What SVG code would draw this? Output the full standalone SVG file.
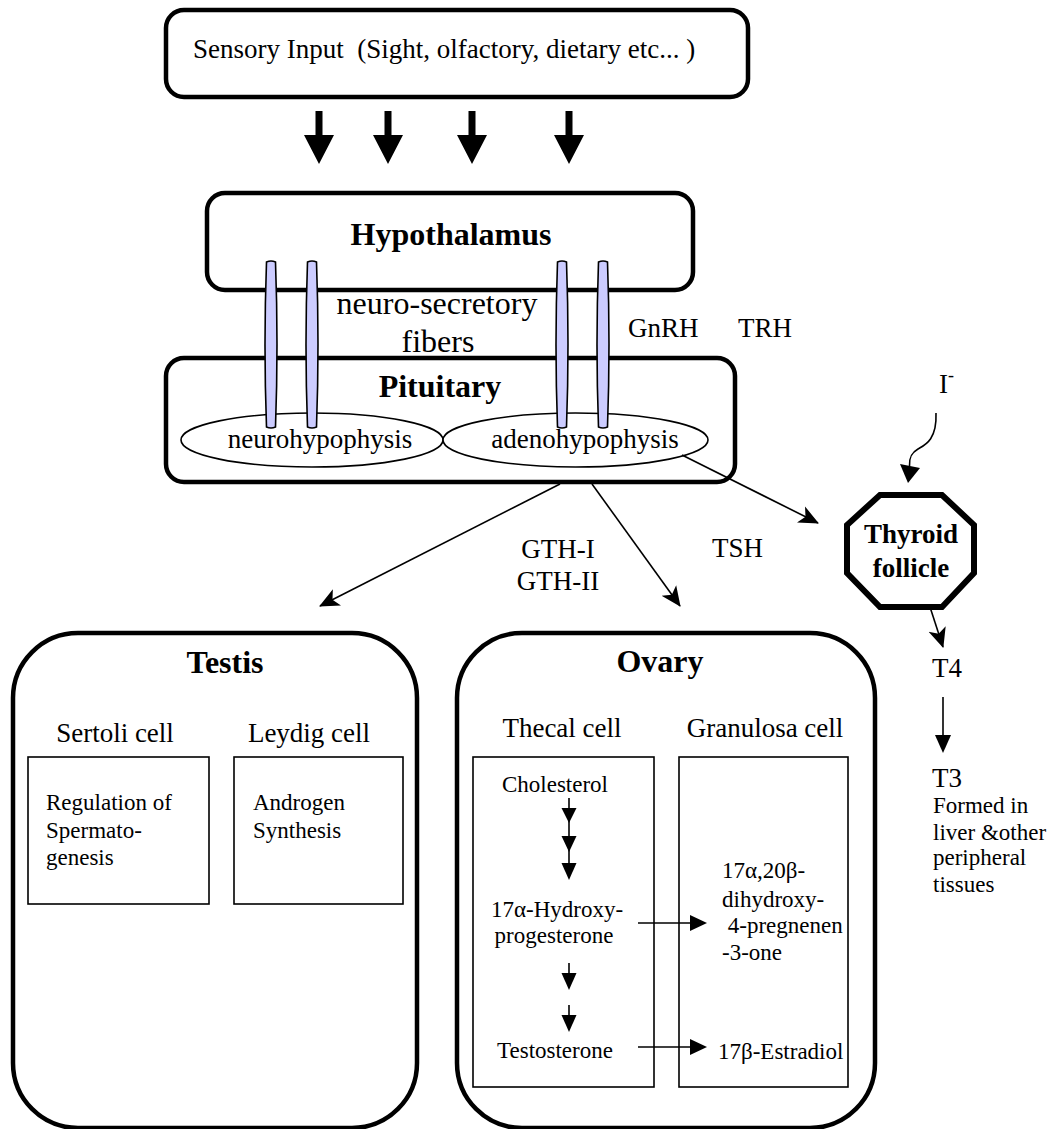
<svg xmlns="http://www.w3.org/2000/svg" width="1049" height="1129" viewBox="0 0 1049 1129">
<style>
text{font-family:"Liberation Serif","Times New Roman",serif;fill:#000;}
.t27{font-size:27px;}
.t23{font-size:23px;}
.t32{font-size:32px;}
.b{font-weight:bold;}
.m{text-anchor:middle;}
.pre{white-space:pre;}
.box{fill:#fff;stroke:#000;stroke-width:4.5;}
.cell{fill:#fff;stroke:#000;stroke-width:1.6;}
.ell{fill:#fff;stroke:#000;stroke-width:1.6;}
.fiber{fill:#ccccff;stroke:#000;stroke-width:1.6;}
.con{fill:none;stroke:#000;stroke-width:1.6;}
.head{fill:#000;stroke:none;}
</style>
<defs>
<marker id="arr" markerUnits="userSpaceOnUse" viewBox="0 0 20 20" refX="19" refY="10" markerWidth="20" markerHeight="20" orient="auto">
<path d="M0,1 L20,10 L0,19 L5,10 Z" fill="#000"/>
</marker>
</defs>

<g id="sensory">
<rect class="box" x="166" y="10" width="582" height="87" rx="18"/>
<text class="t27 pre" x="193" y="58">Sensory Input  (Sight, olfactory, dietary etc... )</text>
</g>

<g id="hypothalamus">
<rect class="box" x="207" y="193" width="486" height="97" rx="18"/>
<text class="t32 b m" x="451" y="245">Hypothalamus</text>
</g>

<g id="pituitary">
<rect class="box" x="166" y="358" width="569" height="124" rx="18"/>
<text class="t32 b m" x="440" y="397">Pituitary</text>
<ellipse class="ell" cx="312" cy="440" rx="131" ry="27"/>
<ellipse class="ell" cx="575.5" cy="440" rx="132.5" ry="27"/>
<text class="t27 m" x="320" y="448">neurohypophysis</text>
<text class="t27 m" x="585" y="448">adenohypophysis</text>
</g>

<g id="fibers">
<path class="fiber" d="M266.5,262 Q263.5,344.5 266.5,427 Q271,429 275.5,427 Q278.5,344.5 275.5,262 Q271,260 266.5,262 Z"/>
<path class="fiber" d="M307.5,262 Q304.5,344.5 307.5,427 Q312,429 316.5,427 Q319.5,344.5 316.5,262 Q312,260 307.5,262 Z"/>
<path class="fiber" d="M557.5,262 Q554.5,344.5 557.5,427 Q562,429 566.5,427 Q569.5,344.5 566.5,262 Q562,260 557.5,262 Z"/>
<path class="fiber" d="M598.5,262 Q595.5,344.5 598.5,427 Q603,429 607.5,427 Q610.5,344.5 607.5,262 Q603,260 598.5,262 Z"/>
<text class="t32 m" x="437" y="314">neuro-secretory</text>
<text class="t32 m" x="438" y="352">fibers</text>
</g>

<g id="labels">
<text class="t27" x="628" y="337">GnRH</text>
<text class="t27" x="738" y="337">TRH</text>
<text class="t27" x="712" y="557">TSH</text>
<text class="t27 m" x="558" y="558">GTH-I</text>
<text class="t27 m" x="558" y="590">GTH-II</text>
<text class="t27" x="939" y="393">I<tspan dy="-12" font-size="18">-</tspan></text>
</g>

<g id="thyroid">
<polygon points="880,495 942,495 974,525 974,573 942,607 880,607 847,573 847,525" fill="#fff" stroke="#000" stroke-width="6"/>
<text class="t27 b m" x="911" y="543">Thyroid</text>
<text class="t27 b m" x="911" y="577">follicle</text>
</g>

<g id="t4">
<text class="t27" x="932" y="677">T4</text>
</g>

<g id="t3">
<text class="t27" x="932" y="787">T3</text>
<text class="t23" x="933" y="813">Formed in</text>
<text class="t23" x="933" y="840">liver &amp;other</text>
<text class="t23" x="933" y="865">peripheral</text>
<text class="t23" x="933" y="892">tissues</text>
</g>

<g id="testis">
<rect class="box" x="13" y="633" width="404" height="495" rx="65"/>
<text class="t32 b m" x="225" y="673">Testis</text>
<text class="t27 m" x="115" y="742">Sertoli cell</text>
<text class="t27 m" x="309" y="742">Leydig cell</text>
<rect class="cell" x="28" y="757" width="181" height="147"/>
<rect class="cell" x="234" y="757" width="169" height="147"/>
<text class="t23" x="46" y="810">Regulation of</text>
<text class="t23" x="46" y="838">Spermato-</text>
<text class="t23" x="46" y="865">genesis</text>
<text class="t23" x="253" y="810">Androgen</text>
<text class="t23" x="253" y="838">Synthesis</text>
</g>

<g id="ovary">
<rect class="box" x="457" y="633" width="418" height="495" rx="65"/>
<text class="t32 b m" x="660" y="672">Ovary</text>
<text class="t27 m" x="562" y="737">Thecal cell</text>
<text class="t27 m" x="765" y="737">Granulosa cell</text>
<rect class="cell" x="473" y="757" width="181" height="330"/>
<rect class="cell" x="679" y="757" width="169" height="330"/>
<text class="t23 m" x="555" y="792">Cholesterol</text>
<text class="t23 m" x="557" y="917">17α-Hydroxy-</text>
<text class="t23 m" x="554" y="943">progesterone</text>
<text class="t23 m" x="555" y="1058">Testosterone</text>
<text class="t23" x="722" y="878">17α,20β-</text>
<text class="t23" x="722" y="907">dihydroxy-</text>
<text class="t23 pre" x="722" y="933"> 4-pregnenen</text>
<text class="t23" x="722" y="960">-3-one</text>
<text class="t23" x="718" y="1059">17β-Estradiol</text>
</g>

<g id="connectors">
<!-- sensory to hypothalamus thick arrows -->
<polygon class="head" points="315.5,111 322.5,111 322.5,135 334,135 319,164 304,135 315.5,135"/>
<polygon class="head" points="384.5,111 391.5,111 391.5,135 403,135 388,164 373,135 384.5,135"/>
<polygon class="head" points="468.5,111 475.5,111 475.5,135 487,135 472,164 457,135 468.5,135"/>
<polygon class="head" points="565.5,111 572.5,111 572.5,135 584,135 569,164 554,135 565.5,135"/>
<!-- pituitary outputs -->
<line class="con" x1="560" y1="484" x2="320" y2="606" marker-end="url(#arr)"/>
<line class="con" x1="592" y1="484" x2="680" y2="606" marker-end="url(#arr)"/>
<line class="con" x1="682" y1="455" x2="818" y2="523" marker-end="url(#arr)"/>
<!-- iodide -->
<path class="con" d="M936,413 C937,440 925,445 918,449 C911,453 909,458 909.5,466"/>
<polygon class="head" points="900,464 920,468 908,483"/>
<!-- thyroid to T4, T4 to T3 -->
<line class="con" x1="930" y1="607" x2="943" y2="647" marker-end="url(#arr)"/>
<line class="con" x1="943" y1="697" x2="943" y2="737"/>
<polygon class="head" points="935,735 951,735 943,753"/>
<!-- ovary thecal chain -->
<line class="con" x1="569" y1="798" x2="569" y2="866"/>
<polygon class="head" points="561.5,808 576.5,808 569,823"/>
<polygon class="head" points="561.5,836 576.5,836 569,852"/>
<polygon class="head" points="561.5,863 576.5,863 569,880"/>
<line class="con" x1="569" y1="963" x2="569" y2="975"/>
<polygon class="head" points="561.5,973 576.5,973 569,990"/>
<line class="con" x1="569" y1="1005" x2="569" y2="1017"/>
<polygon class="head" points="561.5,1015 576.5,1015 569,1032"/>
<!-- thecal to granulosa -->
<line class="con" x1="638" y1="923" x2="692" y2="923"/>
<polygon class="head" points="690,915 690,931 707,923"/>
<line class="con" x1="638" y1="1047" x2="692" y2="1047"/>
<polygon class="head" points="690,1039 690,1055 707,1047"/>
</g>
</svg>
